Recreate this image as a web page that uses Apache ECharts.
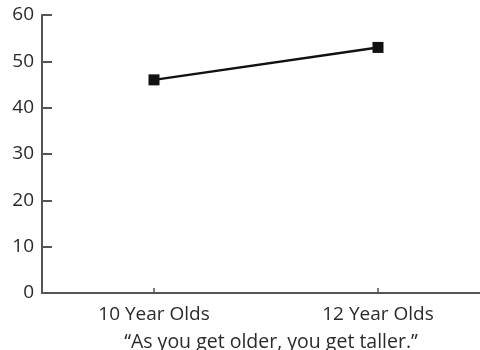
<!DOCTYPE html>
<html><head><meta charset="utf-8">
<script src="https://cdn.jsdelivr.net/npm/echarts@6/dist/echarts.min.js"></script>
<style>html,body{margin:0;padding:0;background:#fff}#c{width:480px;height:350px}</style>
</head><body><div id="c"></div>
<script>
const categories = ["10 Year Olds", "12 Year Olds"];
const heights = [46, 53];
const yTicks = { min: 0, max: 60, interval: 10 };
const caption = "\u201CAs you get older, you get taller.\u201D";

const catIdx = categories.map((c, i) => i);
const chart = echarts.init(document.getElementById('c'));
const font = "'Open Sans', sans-serif";
chart.setOption({
  animation: false,
  grid: { left: 42, right: 0, top: 15, bottom: 57 },
  title: {
    text: caption, left: 266, top: 327, textAlign: 'center',
    textStyle: { fontFamily: font, fontSize: 19.5, fontWeight: 'normal', color: '#2a2a2a' }
  },
  xAxis: {
    type: 'value', min: -0.5, max: 1.4554,
    splitLine: { show: false },
    axisLine: { lineStyle: { color: '#555', width: 2 } },
    axisTick: { show: true, customValues: catIdx, inside: true, length: 5, lineStyle: { color: '#555', width: 1.5 } },
    axisLabel: { customValues: catIdx, formatter: v => categories[Math.round(v)] || '', fontFamily: font, fontSize: 19, color: '#2a2a2a', margin: 12 }
  },
  yAxis: {
    type: 'value', min: yTicks.min, max: yTicks.max, interval: yTicks.interval,
    splitLine: { show: false },
    axisLine: { show: true, onZero: false, lineStyle: { color: '#555', width: 2 } },
    axisTick: { show: true, inside: true, length: 10, lineStyle: { color: '#555', width: 2 } },
    axisLabel: { fontFamily: font, fontSize: 19, color: '#2a2a2a', margin: 8 }
  },
  series: [{
    type: 'line', data: heights.map((v, i) => [catIdx[i], v]),
    symbol: 'rect', symbolSize: 11,
    lineStyle: { color: '#111', width: 2.5 },
    itemStyle: { color: '#111' }
  }]
});
</script></body></html>
